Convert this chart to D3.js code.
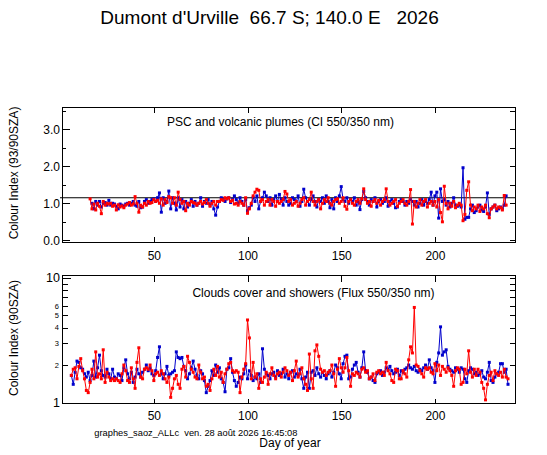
<!DOCTYPE html>
<html>
<head>
<meta charset="utf-8">
<script src="https://cdn.jsdelivr.net/npm/d3@7/dist/d3.min.js"></script>
<style>
body{margin:0;background:#fff;}
svg{display:block;}
text{font-family:"Liberation Sans",Arial,sans-serif;}
</style>
</head>
<body>
<svg id="chart" width="547" height="455"></svg>
<script>
// ---------------- DATA ----------------
const titleText = "Dumont d'Urville  66.7 S; 140.0 E   2026";
const topSubtitle = "PSC and volcanic plumes (CI 550/350 nm)";
const bottomSubtitle = "Clouds cover and showers (Flux 550/350 nm)";
const topYLabel = "Colour Index (93/90SZA)";
const bottomYLabel = "Colour Index (90SZA)";
const xLabel = "Day of year";
const footerText = "graphes_saoz_ALLc  ven. 28 août 2026 16:45:08";

const xTicks = [50, 100, 150, 200];
const topYMajor = [0, 1, 2, 3];
const topYMinor = [0.5, 1.5, 2.5, 3.5];
const topRefValue = 1.15;
const botYMajor = [1, 10];
const botYMinor = [2, 3, 4, 5, 6, 7, 8, 9];
const botYMinorLabels = [2, 3, 4, 5, 6];

// Top panel (colour index), red series starts day 16, blue series starts day 17
const topRedStart = 16;
const topRed = [
1.12,0.85,0.98,0.82,1.00,0.92,0.72,1.05,0.95,1.00,
0.98,1.00,0.92,0.95,0.82,0.96,0.90,0.93,0.88,0.95,
0.98,1.02,0.95,0.98,1.18,1.00,0.76,0.95,0.90,1.00,
0.95,1.05,1.00,1.02,1.10,1.05,1.08,1.00,1.12,0.95,
1.10,1.02,1.18,1.15,1.00,1.15,0.95,1.30,1.10,1.00,
1.05,0.80,1.00,0.95,1.05,1.02,1.00,0.95,1.00,1.05,
0.98,1.02,1.10,1.00,0.92,1.00,1.05,0.95,1.05,1.05,
1.10,1.08,1.15,1.12,1.15,1.05,1.08,0.98,1.00,0.95,
1.05,1.00,0.95,1.15,0.73,0.85,1.00,1.20,1.30,1.38,
1.35,1.05,1.10,0.95,1.05,1.10,0.95,1.10,1.05,0.92,
1.05,1.00,1.05,1.10,1.32,1.25,1.05,1.10,0.95,1.00,
1.05,0.92,1.00,1.10,1.15,0.95,1.05,1.10,1.30,1.05,
0.95,1.05,1.10,0.85,1.00,1.10,1.05,1.15,1.00,0.95,
1.05,1.10,1.12,1.00,1.05,1.15,0.92,0.84,1.05,1.10,
1.00,0.95,1.05,1.10,1.00,1.12,1.39,1.10,1.00,1.05,
0.92,1.05,1.10,1.00,1.08,0.95,1.05,1.10,1.39,1.05,
0.95,1.00,1.05,1.10,0.92,1.00,1.05,1.10,1.00,0.95,
1.05,1.37,0.44,1.05,0.90,1.00,1.10,0.95,1.05,1.10,
0.90,1.00,1.05,0.95,1.05,0.90,1.10,0.75,0.50,1.46,
1.00,0.85,1.00,0.92,1.05,0.88,0.95,1.00,0.95,0.53,
0.70,1.35,1.58,0.95,0.80,0.90,0.85,0.95,0.78,0.90,
0.85,0.95,0.72,0.61,0.85,0.90,0.95,0.85,0.90,0.88,
0.82,1.21,0.95
];
const topBlueStart = 17;
const topBlue = [
1.00,0.85,1.05,0.95,1.05,0.90,1.00,1.02,0.95,1.08,
0.95,1.00,0.98,0.92,0.85,0.98,0.95,0.92,0.98,1.00,
0.95,1.00,1.05,0.95,0.92,1.05,0.88,0.90,1.05,1.10,
1.00,1.05,1.10,1.12,1.05,1.15,1.28,0.76,1.15,1.00,
1.05,1.33,0.85,1.15,1.00,0.82,1.15,0.90,1.10,0.85,
1.05,0.90,1.00,1.10,0.92,1.05,0.95,1.00,1.15,0.92,
1.05,1.00,1.10,0.95,1.05,0.85,0.68,0.90,1.05,1.15,
1.10,1.05,1.12,1.15,1.02,1.10,1.20,1.10,1.00,1.15,
1.05,0.95,1.10,0.80,0.88,0.95,1.15,1.05,1.20,0.85,
1.05,1.15,1.30,1.20,1.05,1.15,0.95,1.10,1.20,1.05,
1.24,1.10,0.95,1.15,1.05,0.95,1.00,1.15,1.10,1.05,
1.20,0.92,1.05,1.38,1.15,1.05,0.95,1.10,1.20,1.05,
0.90,1.10,1.05,1.15,1.00,1.20,1.05,0.88,1.10,0.85,
1.15,1.05,1.20,1.45,1.10,1.05,1.15,1.00,1.10,1.05,
1.15,0.95,1.05,0.83,1.10,1.32,1.15,1.05,0.95,1.10,
1.05,1.15,0.90,1.05,1.10,1.00,1.05,1.15,0.92,1.05,
1.10,1.00,0.88,0.90,1.05,1.10,1.05,0.95,1.05,1.00,
1.10,1.05,0.95,1.05,0.90,1.00,1.10,0.95,1.05,1.00,
1.10,1.30,0.95,1.20,1.30,0.60,1.39,1.05,1.10,0.95,
1.05,0.90,1.00,1.15,0.95,0.92,0.95,0.90,1.96,0.57,
0.62,0.62,0.85,0.95,0.75,0.80,0.90,0.95,0.82,0.78,
0.90,1.28,0.70,0.85,0.90,0.95,0.80,0.85,0.90,0.85,
0.95,1.20
];

// Bottom panel (flux ratio, log axis), both series start day 6
const botRedStart = 6;
const botRed = [
1.65,1.85,1.90,1.55,1.95,2.25,1.80,1.55,1.25,1.20,
1.45,1.85,1.55,2.55,1.60,1.70,1.55,2.65,1.45,1.75,
1.60,1.50,1.55,1.50,1.55,1.50,1.45,1.70,2.00,1.80,
1.50,1.45,1.90,1.55,1.30,2.10,2.75,1.60,1.55,1.85,
1.90,1.85,2.00,1.80,1.50,1.70,1.75,1.65,1.80,1.70,
1.55,1.45,1.60,1.10,1.30,1.55,1.65,1.40,1.30,1.85,
1.95,1.60,2.35,2.10,1.85,1.75,1.60,1.55,2.00,1.75,
1.55,1.60,1.35,1.40,1.25,1.55,1.85,1.65,1.95,1.60,
1.75,1.45,1.70,1.85,2.05,2.10,1.80,1.75,1.80,1.75,
1.20,1.60,1.85,2.05,4.60,3.30,1.55,2.10,1.60,1.70,
1.30,1.55,1.45,1.60,1.75,1.40,1.70,1.90,1.65,1.55,
1.70,1.75,1.60,1.75,1.90,1.80,1.65,1.75,1.50,1.80,
2.15,1.60,1.70,1.90,1.55,1.40,1.25,2.45,1.55,1.30,
2.60,2.90,2.35,1.85,1.75,1.80,1.65,1.75,1.80,2.00,
1.70,1.35,1.85,2.25,1.90,1.75,1.90,2.30,1.80,1.35,
1.70,1.65,1.75,1.70,1.60,1.85,1.90,1.75,1.80,1.55,
1.60,1.70,1.50,1.75,1.80,1.70,1.75,1.65,2.10,1.80,
1.70,1.50,1.45,1.85,1.80,1.55,1.55,1.80,1.70,1.60,
2.20,2.80,2.50,5.80,2.00,1.95,1.80,1.70,1.60,1.90,
1.85,1.90,1.75,1.70,2.05,1.80,2.00,1.65,1.95,1.85,
1.75,1.90,1.80,1.65,1.35,1.80,1.90,1.85,1.40,1.45,
1.85,1.70,2.60,1.75,1.60,1.85,1.65,1.85,1.75,1.45,
1.30,1.05,1.40,1.65,1.75,1.50,1.80,1.70,1.65,1.75,
1.60,1.85,1.60,1.55
];
const botBlueStart = 6;
const botBlue = [
1.65,1.40,1.75,2.15,2.10,1.90,1.85,1.70,1.60,1.75,
1.50,1.65,2.15,1.60,1.90,2.40,1.80,1.65,1.60,1.85,
1.70,1.55,1.85,1.60,1.55,1.70,1.65,1.50,1.90,2.20,
1.70,1.55,1.75,1.45,1.60,1.85,1.70,1.60,1.75,1.85,
2.00,1.80,1.90,1.70,1.65,1.80,2.30,2.80,1.70,1.55,
1.70,1.95,1.65,1.70,1.75,1.80,2.55,2.30,2.25,2.30,
1.95,1.80,1.55,1.70,1.90,2.15,1.85,1.65,1.55,1.80,
1.70,1.50,1.20,1.35,1.50,1.80,1.65,2.00,1.75,1.90,
1.55,1.45,1.22,1.85,1.90,2.25,1.75,1.50,1.35,1.45,
1.60,1.55,1.70,2.00,1.55,1.80,1.65,1.50,1.60,1.55,
1.70,1.45,2.70,1.85,1.70,1.65,1.55,1.70,1.75,1.60,
1.80,1.65,1.70,1.85,1.60,1.70,1.55,1.75,1.80,1.60,
1.70,1.65,1.85,1.55,1.30,1.60,1.75,1.30,1.75,1.80,
1.65,1.90,1.70,1.60,1.75,1.65,1.55,1.70,1.80,1.60,
1.75,2.00,1.90,1.70,1.55,2.05,2.35,2.40,1.55,1.60,
1.85,2.00,2.10,1.75,1.60,1.90,2.55,1.80,1.75,1.55,
1.60,1.50,1.45,1.70,1.75,1.80,1.65,1.75,1.90,1.85,
1.95,1.80,1.70,1.75,1.85,1.65,1.80,1.75,1.85,1.90,
2.00,1.90,1.85,1.95,1.80,1.75,1.85,1.80,1.90,2.00,
1.85,2.20,1.90,1.80,1.45,2.10,2.50,4.05,2.40,2.55,
2.65,1.95,1.85,1.80,1.75,1.90,1.85,1.75,1.90,1.85,
1.55,1.45,1.80,1.90,1.85,1.70,1.75,1.65,1.70,1.80,
1.60,1.55,1.75,2.10,1.50,1.45,1.60,1.70,1.75,2.05,
2.05,1.75,1.85,1.40
];

// ---------------- DRAWING ----------------
const BLUE = "#0000cc", RED = "#ff0000";
const svg = d3.select("#chart");
const FONT = '"Liberation Sans", Arial, sans-serif';

const L = 62, R = 515.5;
const x = d3.scaleLinear().domain([1, 243]).range([L, R]);

const topP = {t: 107, b: 242};
const botP = {t: 275.5, b: 403.5};
const yTop = d3.scaleLinear().domain([-0.045, 3.6]).range([topP.b, topP.t]);
const yBot = d3.scaleLog().domain([0.9817, 10.47]).range([botP.b, botP.t]);

function toPts(vals, start) { return vals.map((v, i) => ({d: start + i, v})); }

// Title
svg.append("text").attr("x", 269.5).attr("y", 24).attr("text-anchor", "middle")
  .attr("font-size", 19).attr("xml:space", "preserve").style("white-space", "pre")
  .text(titleText);

function drawPanel(p, y, series, refVal) {
  const g = svg.append("g");
  g.append("rect").attr("x", L).attr("y", p.t).attr("width", R - L).attr("height", p.b - p.t)
    .attr("fill", "none").attr("stroke", "#000").attr("stroke-width", 1).attr("shape-rendering", "crispEdges");
  if (refVal !== undefined) {
    g.append("line").attr("x1", L - 2).attr("x2", R).attr("y1", y(refVal)).attr("y2", y(refVal))
      .attr("stroke", "#000").attr("stroke-width", 1.2);
  }
  const line = d3.line().x(d => x(d.d)).y(d => y(d.v));
  series.forEach(s => {
    g.append("path").datum(s.pts).attr("d", line).attr("fill", "none")
      .attr("stroke", s.color).attr("stroke-width", 1);
    g.selectAll(null).data(s.pts).enter().append("rect")
      .attr("x", d => x(d.d) - 1.5).attr("y", d => y(d.v) - 1.5)
      .attr("width", 3).attr("height", 3).attr("fill", s.color);
  });
  return g;
}

function styleAxis(g) {
  g.select(".domain").remove();
  g.selectAll("line").attr("stroke", "#000").attr("shape-rendering", "crispEdges");
  g.selectAll("text").attr("fill", "#000").attr("font-family", FONT);
}

// ---- Top panel ----
drawPanel(topP, yTop, [
  {pts: toPts(topBlue, topBlueStart), color: BLUE},
  {pts: toPts(topRed, topRedStart), color: RED}
], topRefValue);

svg.append("g").attr("transform", `translate(${L},0)`)
  .call(d3.axisLeft(yTop).tickValues(topYMajor).tickSize(-8).tickPadding(2).tickFormat(d3.format(".1f")))
  .attr("font-size", 12).call(styleAxis);
svg.append("g").attr("transform", `translate(${L},0)`)
  .call(d3.axisLeft(yTop).tickValues(topYMinor).tickSize(-4).tickFormat(""))
  .call(styleAxis);
svg.append("g").attr("transform", `translate(${R},0)`)
  .call(d3.axisRight(yTop).tickValues(topYMajor.concat(topYMinor)).tickSize(-6).tickFormat(""))
  .call(styleAxis);
svg.append("g").attr("transform", `translate(0,${topP.t})`)
  .call(d3.axisTop(x).tickValues(xTicks).tickSize(-6).tickFormat(""))
  .call(styleAxis);
svg.append("g").attr("transform", `translate(0,${topP.b})`)
  .call(d3.axisBottom(x).tickValues(xTicks).tickSize(-5).tickPadding(9))
  .attr("font-size", 12).call(styleAxis);

svg.append("text").attr("x", 280.5).attr("y", 125.5).attr("text-anchor", "middle")
  .attr("font-size", 12).text(topSubtitle);
svg.append("text").attr("transform", "translate(18,173) rotate(-90)").attr("text-anchor", "middle")
  .attr("font-size", 12).text(topYLabel);

// ---- Bottom panel ----
drawPanel(botP, yBot, [
  {pts: toPts(botBlue, botBlueStart), color: BLUE},
  {pts: toPts(botRed, botRedStart), color: RED}
]);

svg.append("g").attr("transform", `translate(${L},0)`)
  .call(d3.axisLeft(yBot).tickValues(botYMajor).tickSize(-9).tickPadding(2).tickFormat(d3.format("d")))
  .attr("font-size", 12.5).call(styleAxis);
svg.append("g").attr("transform", `translate(${L},0)`)
  .call(d3.axisLeft(yBot).tickValues(botYMinor).tickSize(-6).tickPadding(3)
    .tickFormat(d => botYMinorLabels.includes(d) ? d3.format("d")(d) : ""))
  .attr("font-size", 7.5).call(styleAxis);
svg.append("g").attr("transform", `translate(${R},0)`)
  .call(d3.axisRight(yBot).tickValues(botYMajor.concat(botYMinor)).tickSize(-6).tickFormat(""))
  .call(styleAxis);
svg.append("g").attr("transform", `translate(0,${botP.t})`)
  .call(d3.axisTop(x).tickValues(xTicks).tickSize(-6).tickFormat(""))
  .call(styleAxis);
svg.append("g").attr("transform", `translate(0,${botP.b})`)
  .call(d3.axisBottom(x).tickValues(xTicks).tickSize(-5).tickPadding(8))
  .attr("font-size", 12).call(styleAxis);

svg.append("text").attr("x", 313.5).attr("y", 297).attr("text-anchor", "middle")
  .attr("font-size", 12).text(bottomSubtitle);
svg.append("text").attr("transform", "translate(18,338) rotate(-90)").attr("text-anchor", "middle")
  .attr("font-size", 12).text(bottomYLabel);

// Footer and x label
svg.append("text").attr("x", 94.3).attr("y", 435.5).attr("font-size", 9.3)
  .attr("xml:space", "preserve").style("white-space", "pre").text(footerText);
svg.append("text").attr("x", 290).attr("y", 447).attr("text-anchor", "middle")
  .attr("font-size", 12).text(xLabel);
</script>
</body>
</html>
